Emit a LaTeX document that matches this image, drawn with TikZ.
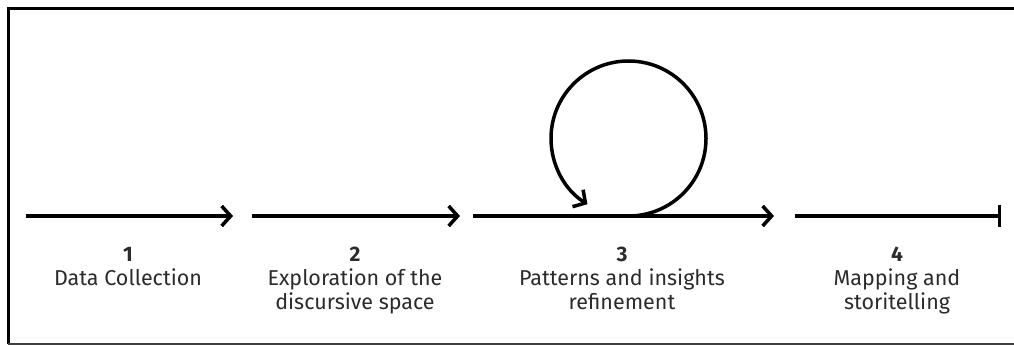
\documentclass[tikz,border=0pt]{standalone}
\usepackage{fontspec}
\setmainfont{Fira Sans}
\usetikzlibrary{arrows.meta}
\definecolor{txt}{HTML}{2B2B2B}
\tikzset{
  flow/.style={line width=3.5pt, -{Straight Barb[length=9pt,width=20pt,line width=3.5pt]}},
  endflow/.style={line width=3.5pt, -{Bar[width=22pt,line width=3.5pt]}},
  numlbl/.style={anchor=base, text=txt, font=\bfseries\fontsize{21}{24}\selectfont, inner sep=0pt},
  steplbl/.style={anchor=base, text=txt, font=\fontsize{21.5}{24}\selectfont, align=center, inner sep=0pt},
  frameline/.style={line width=3pt, black},
}
\begin{document}
\begin{tikzpicture}[x=1pt,y=1pt]
\useasboundingbox (0,0) rectangle (1014,345);
% frame
\coordinate (fTL) at (8,336);
\coordinate (fTR) at (1014,336);
\coordinate (fBL) at (8,1);
\coordinate (fBR) at (1014,1);
\draw[frameline] (fTR) -- (fTL) -- (fBL);
\draw[line width=1.5pt, black!75] (fBL) -- (fBR);
% arrows
\coordinate (a1s) at (26,129);  \coordinate (a1e) at (233,129);
\coordinate (a2s) at (252,129); \coordinate (a2e) at (460,129);
\coordinate (a3s) at (473,129); \coordinate (a3e) at (774,129);
\coordinate (a4s) at (795,129); \coordinate (a4e) at (1001,129);
\draw[flow] (a1s) -- (a1e);
\draw[flow] (a2s) -- (a2e);
\draw[flow] (a3s) -- (a3e);
\draw[endflow] (a4s) -- (a4e);
% loop
\coordinate (loopc) at (628.5,206.5);
\draw[line width=3.5pt, -{Straight Barb[length=9pt,width=20pt,line width=3.5pt]}]
  ([shift={(-90:77.5)}]loopc) arc[start angle=-90, end angle=238, radius=77.5];
% labels
\node[numlbl] (n1) at (128,83.5) {1};
\node[steplbl] (l1) at (128,59) {Data Collection};
\node[numlbl] (n2) at (355,83.5) {2};
\node[steplbl] (l2) at (355,35) {Exploration of the\\discursive space};
\node[numlbl] (n3) at (622,83.5) {3};
\node[steplbl] (l3) at (622,35) {Patterns and insights\\refinement};
\node[numlbl] (n4) at (897,83.5) {4};
\node[steplbl] (l4) at (897,35) {Mapping and\\storitelling};
\end{tikzpicture}
\end{document}
